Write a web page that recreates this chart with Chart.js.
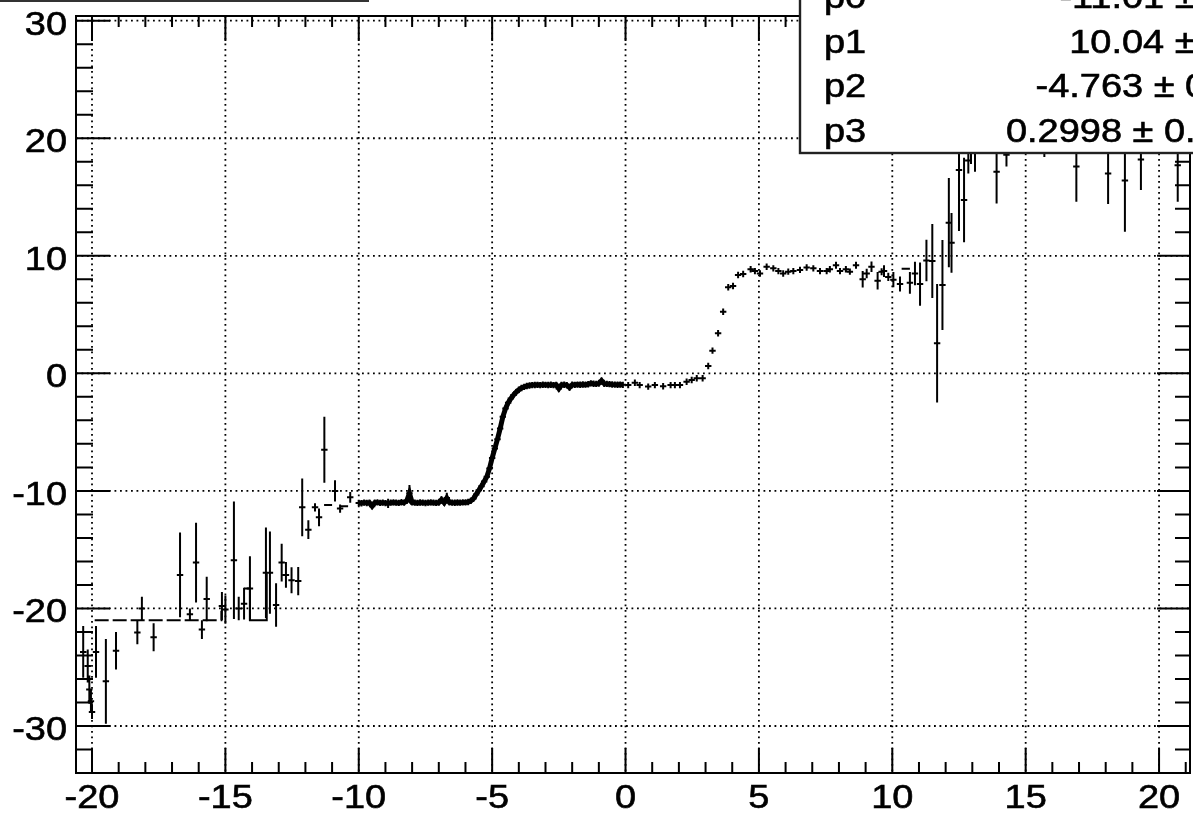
<!DOCTYPE html>
<html>
<head>
<meta charset="utf-8">
<script src="https://cdn.jsdelivr.net/npm/chart.js@4.4.1/dist/chart.umd.min.js"></script>
<style>
  html, body { margin: 0; padding: 0; background: #fff; }
</style>
</head>
<body>
<canvas id="fitChart" width="1193" height="815"></canvas>
<script>
// sparse bins in the tails (x, y, vertical error)
const tailX = [-20.33, -20.16, -20.1, -20.04, -20.0, -19.85, -19.48, -19.1, -18.3, -18.13, -17.69,
    -16.7, -16.33, -16.1, -15.88, -15.7, -15.13, -15.0, -14.68, -14.5, -14.3, -14.08, -13.48, -13.33,
    -13.1, -12.89, -12.73, -12.52, -12.27, -12.12, -11.89, -11.64, -11.49, -11.29, -10.89, -10.7, -10.32,
    0.1, 0.35, 0.53, 0.85, 1.1, 1.41, 1.69, 1.85, 2.04, 2.29, 2.48, 2.67, 2.89, 3.1, 3.26, 3.47, 3.66,
    3.85, 4.03, 4.22, 4.41, 4.69, 4.85, 5.04, 5.29, 5.54, 5.73, 5.91, 6.1, 6.29, 6.54, 6.79, 7.04, 7.29,
    7.54, 7.66, 7.89, 8.04, 8.26, 8.41, 8.64, 8.89, 9.04, 9.22, 9.45, 9.6, 9.69, 9.85, 10.04, 10.29,
    10.66, 10.85, 11.04, 11.28, 11.5, 11.68, 11.88, 12.12, 12.22, 12.5, 12.69, 12.85, 12.95, 13.1,
    13.91, 14.28, 15.7, 16.9, 18.09, 18.72, 19.32, 20.7];
const tailY = [-23.7, -24.9, -26.9, -27.9, -28.8, -23.7, -26.2, -23.6, -22.05, -20.0, -22.45,
    -17.15, -20.5, -16.1, -21.8, -19.2, -19.8, -20.1, -15.9, -20.0, -19.6, -18.3, -16.96, -16.96,
    -19.7, -16.1, -17.15, -17.6, -17.67, -11.4, -13.3, -11.4, -12.25, -6.5, -10.0, -11.5, -10.55,
    -1.0, -0.8, -1.0, -1.13, -1.0, -1.1, -1.0, -1.0, -1.0, -0.71, -0.57, -0.42, -0.42, 0.62, 1.93, 3.41, 5.24,
    7.32, 7.43, 8.37, 8.45, 8.85, 8.7, 8.5, 9.07, 8.93, 8.7, 8.5, 8.65, 8.7, 8.8, 9.0, 8.93, 8.7,
    8.7, 8.85, 9.2, 8.7, 8.85, 8.65, 9.2, 8.0, 8.5, 9.07, 7.88, 8.65, 8.7, 8.2, 7.97, 7.6,
    7.7, 8.5, 7.6, 9.6, 9.56, 2.56, 7.52, 12.82, 11.1, 17.3, 14.75, 18.1, 19.6, 19.3,
    17.15, 18.6, 20.5, 17.6, 17.0, 16.4, 18.2, 17.7];
const tailErr = [2.2, 1.4, 1.2, 1.0, 0.6, 2.2, 3.6, 1.6, 1.0, 1.0, 1.2,
    3.6, 0.5, 3.4, 0.8, 1.9, 1.2, 1.2, 5.0, 1.0, 1.35, 2.75, 3.85, 3.5,
    1.85, 1.6, 1.1, 1.1, 1.2, 2.45, 0.8, 0.35, 0.75, 2.8, 0.9, 0.35, 0.45,
    0.12, 0.15, 0.12, 0.12, 0.12, 0.12, 0.12, 0.12, 0.12, 0.15, 0.15, 0.15, 0.15, 0.2, 0.2, 0.2, 0.2,
    0.2, 0.2, 0.15, 0.15, 0.15, 0.15, 0.15, 0.15, 0.15, 0.15, 0.15, 0.15, 0.15, 0.15, 0.15, 0.15, 0.15,
    0.15, 0.15, 0.3, 0.2, 0.2, 0.2, 0.3, 0.7, 0.4, 0.45, 0.75, 0.3, 0.5, 0.35, 0.65, 0.64,
    0.92, 1.0, 1.84, 1.77, 3.15, 5.03, 3.83, 3.8, 2.55, 5.2, 3.6, 1.1, 1.8, 2.15,
    2.7, 1.0, 2.1, 3.0, 2.6, 4.35, 2.6, 3.1];

// fine scan across the step, -10 to 0
const scanX = [-10.0, -9.9, -9.8, -9.7, -9.6, -9.5, -9.4, -9.3, -9.2, -9.1,
    -9.0, -8.9, -8.8, -8.7, -8.6, -8.5, -8.4, -8.3, -8.2, -8.1,
    -8.0, -7.9, -7.8, -7.7, -7.6, -7.5, -7.4, -7.3, -7.2, -7.1,
    -7.0, -6.9, -6.8, -6.7, -6.6, -6.5, -6.4, -6.3, -6.2, -6.1,
    -6.0, -5.9, -5.8, -5.7, -5.6, -5.5, -5.4, -5.3, -5.2, -5.1,
    -5.0, -4.9, -4.8, -4.7, -4.6, -4.5, -4.4, -4.3, -4.2, -4.1,
    -4.0, -3.9, -3.8, -3.7, -3.6, -3.5, -3.4, -3.3, -3.2, -3.1,
    -3.0, -2.9, -2.8, -2.7, -2.6, -2.5, -2.4, -2.3, -2.2, -2.1,
    -2.0, -1.9, -1.8, -1.7, -1.6, -1.5, -1.4, -1.3, -1.2, -1.1,
    -1.0, -0.9, -0.8, -0.7, -0.6, -0.5, -0.4, -0.3, -0.2, -0.1];
const scanY = [-11.02, -11.05, -11.0, -11.03, -11.0, -11.3, -11.0, -10.98, -11.02, -11.0,
    -11.04, -11.06, -11.0, -10.98, -11.0, -11.02, -10.97, -11.0, -10.85, -10.2,
    -10.98, -11.0, -11.02, -10.99, -11.0, -11.03, -11.0, -10.98, -11.0, -11.02,
    -10.99, -10.75, -11.0, -10.6, -10.98, -11.0, -11.01, -10.99, -11.0, -10.98,
    -10.98, -10.95, -10.85, -10.65, -10.3, -9.95, -9.6, -9.2, -8.8, -8.1,
    -7.2, -6.4, -5.6, -4.7, -3.7, -3.0, -2.5, -2.15, -1.85, -1.6,
    -1.4, -1.25, -1.15, -1.08, -1.03, -1.0, -0.99, -0.98, -1.0, -0.97,
    -0.98, -0.99, -0.97, -1.0, -0.98, -1.3, -0.98, -0.97, -1.0, -1.2,
    -0.97, -0.98, -0.96, -0.97, -0.95, -0.96, -0.93, -0.85, -0.88, -0.9,
    -0.86, -0.62, -0.88, -0.9, -0.92, -0.95, -0.96, -0.97, -0.96, -0.98];
const scanErr = [0.12, 0.12, 0.12, 0.12, 0.12, 0.15, 0.12, 0.12, 0.12, 0.12,
    0.12, 0.4, 0.12, 0.12, 0.12, 0.12, 0.12, 0.12, 0.2, 0.7,
    0.12, 0.12, 0.12, 0.12, 0.12, 0.12, 0.12, 0.12, 0.12, 0.12,
    0.12, 0.3, 0.12, 0.45, 0.12, 0.12, 0.12, 0.12, 0.12, 0.12,
    0.12, 0.12, 0.12, 0.12, 0.15, 0.15, 0.15, 0.15, 0.15, 0.15,
    0.15, 0.15, 0.15, 0.15, 0.15, 0.15, 0.15, 0.15, 0.15, 0.12,
    0.12, 0.12, 0.12, 0.12, 0.12, 0.12, 0.12, 0.12, 0.12, 0.12,
    0.12, 0.12, 0.12, 0.12, 0.12, 0.2, 0.12, 0.12, 0.12, 0.15,
    0.12, 0.12, 0.12, 0.12, 0.12, 0.12, 0.12, 0.12, 0.12, 0.12,
    0.12, 0.25, 0.12, 0.12, 0.12, 0.12, 0.12, 0.12, 0.12, 0.12];

// histogram outline pieces; null breaks the line
const outlineDashX = [-19.9, -15.15];
const outlineDashY = [-21.0, -20.2];
const outlineX = [-14.3, -14.08, -13.45, null, -11.3, -11.0, null, -10.7, -10.4, null, 10.35, 10.66];
const outlineY = [-18.3, -21.0, -17.0, null, -11.2, -11.2, null, -11.3, -11.3, null, 8.9, 8.9];

const xTicks = [-20, -15, -10, -5, 0, 5, 10, 15, 20];
const yTicks = [-30, -20, -10, 0, 10, 20, 30];

const fitNames = ["p0", "p1", "p2", "p3"];
const fitValues = ["-11.01", "10.04", "-4.763", "0.2998"];
const fitErrors = ["0.01", "0.01", "0.002", "0.0017"];

const toPoints = (xs, ys) => xs.map((x, i) => ({ x: x, y: ys[i] }));

const FONT = "33px 'Liberation Sans', Arial, Helvetica, sans-serif";
const XSTRETCH = 1.15;

// text drawn a bit wider and heavier, like the old Helvetica output
function wideText(ctx, text, x, y, align) {
    ctx.save();
    ctx.translate(x, y);
    ctx.scale(XSTRETCH, 1);
    ctx.textAlign = align;
    ctx.textBaseline = "alphabetic";
    ctx.lineWidth = 0.6;
    ctx.strokeStyle = ctx.fillStyle;
    ctx.fillText(text, 0, 0);
    ctx.strokeText(text, 0, 0);
    ctx.restore();
}

const rootStyle = {
    id: "rootStyle",
    beforeDatasetsDraw(chart) {
        const { ctx, chartArea: a, scales: { x, y } } = chart;
        ctx.save();
        ctx.strokeStyle = "#000";
        ctx.lineWidth = 1.8;
        ctx.setLineDash([1.8, 3.7]);
        ctx.beginPath();
        xTicks.forEach(v => {
            const px = x.getPixelForValue(v);
            ctx.moveTo(px, a.top); ctx.lineTo(px, a.bottom);
        });
        yTicks.forEach(v => {
            const py = y.getPixelForValue(v);
            ctx.moveTo(a.left, py); ctx.lineTo(a.right, py);
        });
        ctx.stroke();
        ctx.restore();
    },
    afterDatasetsDraw(chart) {
        const { ctx, chartArea: a, scales: { x, y } } = chart;
        // error bars with "+" markers
        ctx.save();
        ctx.beginPath();
        ctx.rect(a.left, a.top, a.right - a.left, a.bottom - a.top);
        ctx.clip();
        ctx.strokeStyle = "#000";
        ctx.lineWidth = 2;
        ctx.beginPath();
        chart.data.datasets.forEach((ds, di) => {
            if (!ds.yErr) return;
            const meta = chart.getDatasetMeta(di);
            meta.data.forEach((pt, i) => {
                const v = ds.data[i];
                const m = 3.2;
                ctx.moveTo(pt.x, y.getPixelForValue(v.y + ds.yErr[i]));
                ctx.lineTo(pt.x, y.getPixelForValue(v.y - ds.yErr[i]));
                ctx.moveTo(pt.x, pt.y - m); ctx.lineTo(pt.x, pt.y + m);
                ctx.moveTo(pt.x - m, pt.y); ctx.lineTo(pt.x + m, pt.y);
            });
        });
        ctx.stroke();
        ctx.restore();

        // frame and tick marks on all four sides
        ctx.save();
        ctx.strokeStyle = "#000";
        ctx.lineWidth = 2;
        ctx.strokeRect(a.left, a.top, a.right - a.left, a.bottom - a.top);
        ctx.beginPath();
        for (let v = -20; v <= 21; v++) {
            const px = x.getPixelForValue(v);
            const len = v % 5 === 0 ? 25 : 11;
            ctx.moveTo(px, a.bottom); ctx.lineTo(px, a.bottom - len);
            ctx.moveTo(px, a.top); ctx.lineTo(px, a.top + len);
        }
        for (let v = -34; v <= 30; v += 2) {
            const py = y.getPixelForValue(v);
            const major = v % 10 === 0;
            ctx.moveTo(a.left, py); ctx.lineTo(a.left + (major ? 34 : 17), py);
            ctx.moveTo(a.right, py); ctx.lineTo(a.right - (major ? 33 : 15), py);
        }
        ctx.stroke();

        // axis labels
        ctx.fillStyle = "#000";
        ctx.font = FONT;
        xTicks.forEach(v => wideText(ctx, String(v), x.getPixelForValue(v), 808, "center"));
        yTicks.forEach(v => wideText(ctx, String(v), 67, y.getPixelForValue(v) + 14, "right"));
        ctx.restore();
    },
    afterDraw(chart) {
        const ctx = chart.ctx;
        ctx.save();
        // title box, mostly above the canvas
        ctx.fillStyle = "#fff";
        ctx.fillRect(-10, -60, 378, 61);
        ctx.strokeStyle = "#333";
        ctx.lineWidth = 2;
        ctx.strokeRect(-10, -60, 378, 61);

        // fit parameter box
        ctx.fillStyle = "#fff";
        ctx.fillRect(800, -60, 500, 213);
        ctx.strokeStyle = "#222";
        ctx.lineWidth = 2.4;
        ctx.strokeRect(800, -60, 500, 213);

        ctx.fillStyle = "#000";
        ctx.font = FONT;
        fitNames.forEach((name, i) => {
            const base = 8 + i * 44.6;
            wideText(ctx, name, 824, base, "left");
            wideText(ctx, fitValues[i] + " \u00b1 " + fitErrors[i], 1280, base, "right");
        });
        ctx.restore();
    }
};

new Chart(document.getElementById("fitChart"), {
    type: "scatter",
    data: {
        datasets: [
            {
                label: "outline dashed",
                data: toPoints(outlineDashX, outlineDashY),
                showLine: true,
                stepped: "before",
                borderColor: "#000",
                borderWidth: 2,
                borderDash: [14, 4],
                pointRadius: 0
            },
            {
                label: "outline",
                data: toPoints(outlineX, outlineY),
                showLine: true,
                stepped: "before",
                spanGaps: false,
                borderColor: "#000",
                borderWidth: 2,
                pointRadius: 0
            },
            {
                label: "tails",
                data: toPoints(tailX, tailY),
                yErr: tailErr,
                pointRadius: 0
            },
            {
                // bins are so dense here that they merge into one thick band
                label: "scan",
                data: toPoints(scanX, scanY),
                yErr: scanErr,
                showLine: true,
                borderColor: "#000",
                borderWidth: 5,
                pointRadius: 0
            }
        ]
    },
    options: {
        responsive: false,
        animation: false,
        devicePixelRatio: 1,
        layout: {
            padding: { top: 16, right: 3, left: 0, bottom: 0 }
        },
        plugins: {
            legend: { display: false },
            tooltip: { enabled: false }
        },
        scales: {
            x: {
                type: "linear",
                min: -20.6,
                max: 21.16,
                grid: { display: false },
                border: { display: false },
                ticks: { display: false },
                afterFit: s => { s.height = 42; }
            },
            y: {
                type: "linear",
                min: -34,
                max: 30.4,
                grid: { display: false },
                border: { display: false },
                ticks: { display: false },
                afterFit: s => { s.width = 76; }
            }
        }
    },
    plugins: [rootStyle]
});
</script>
</body>
</html>
